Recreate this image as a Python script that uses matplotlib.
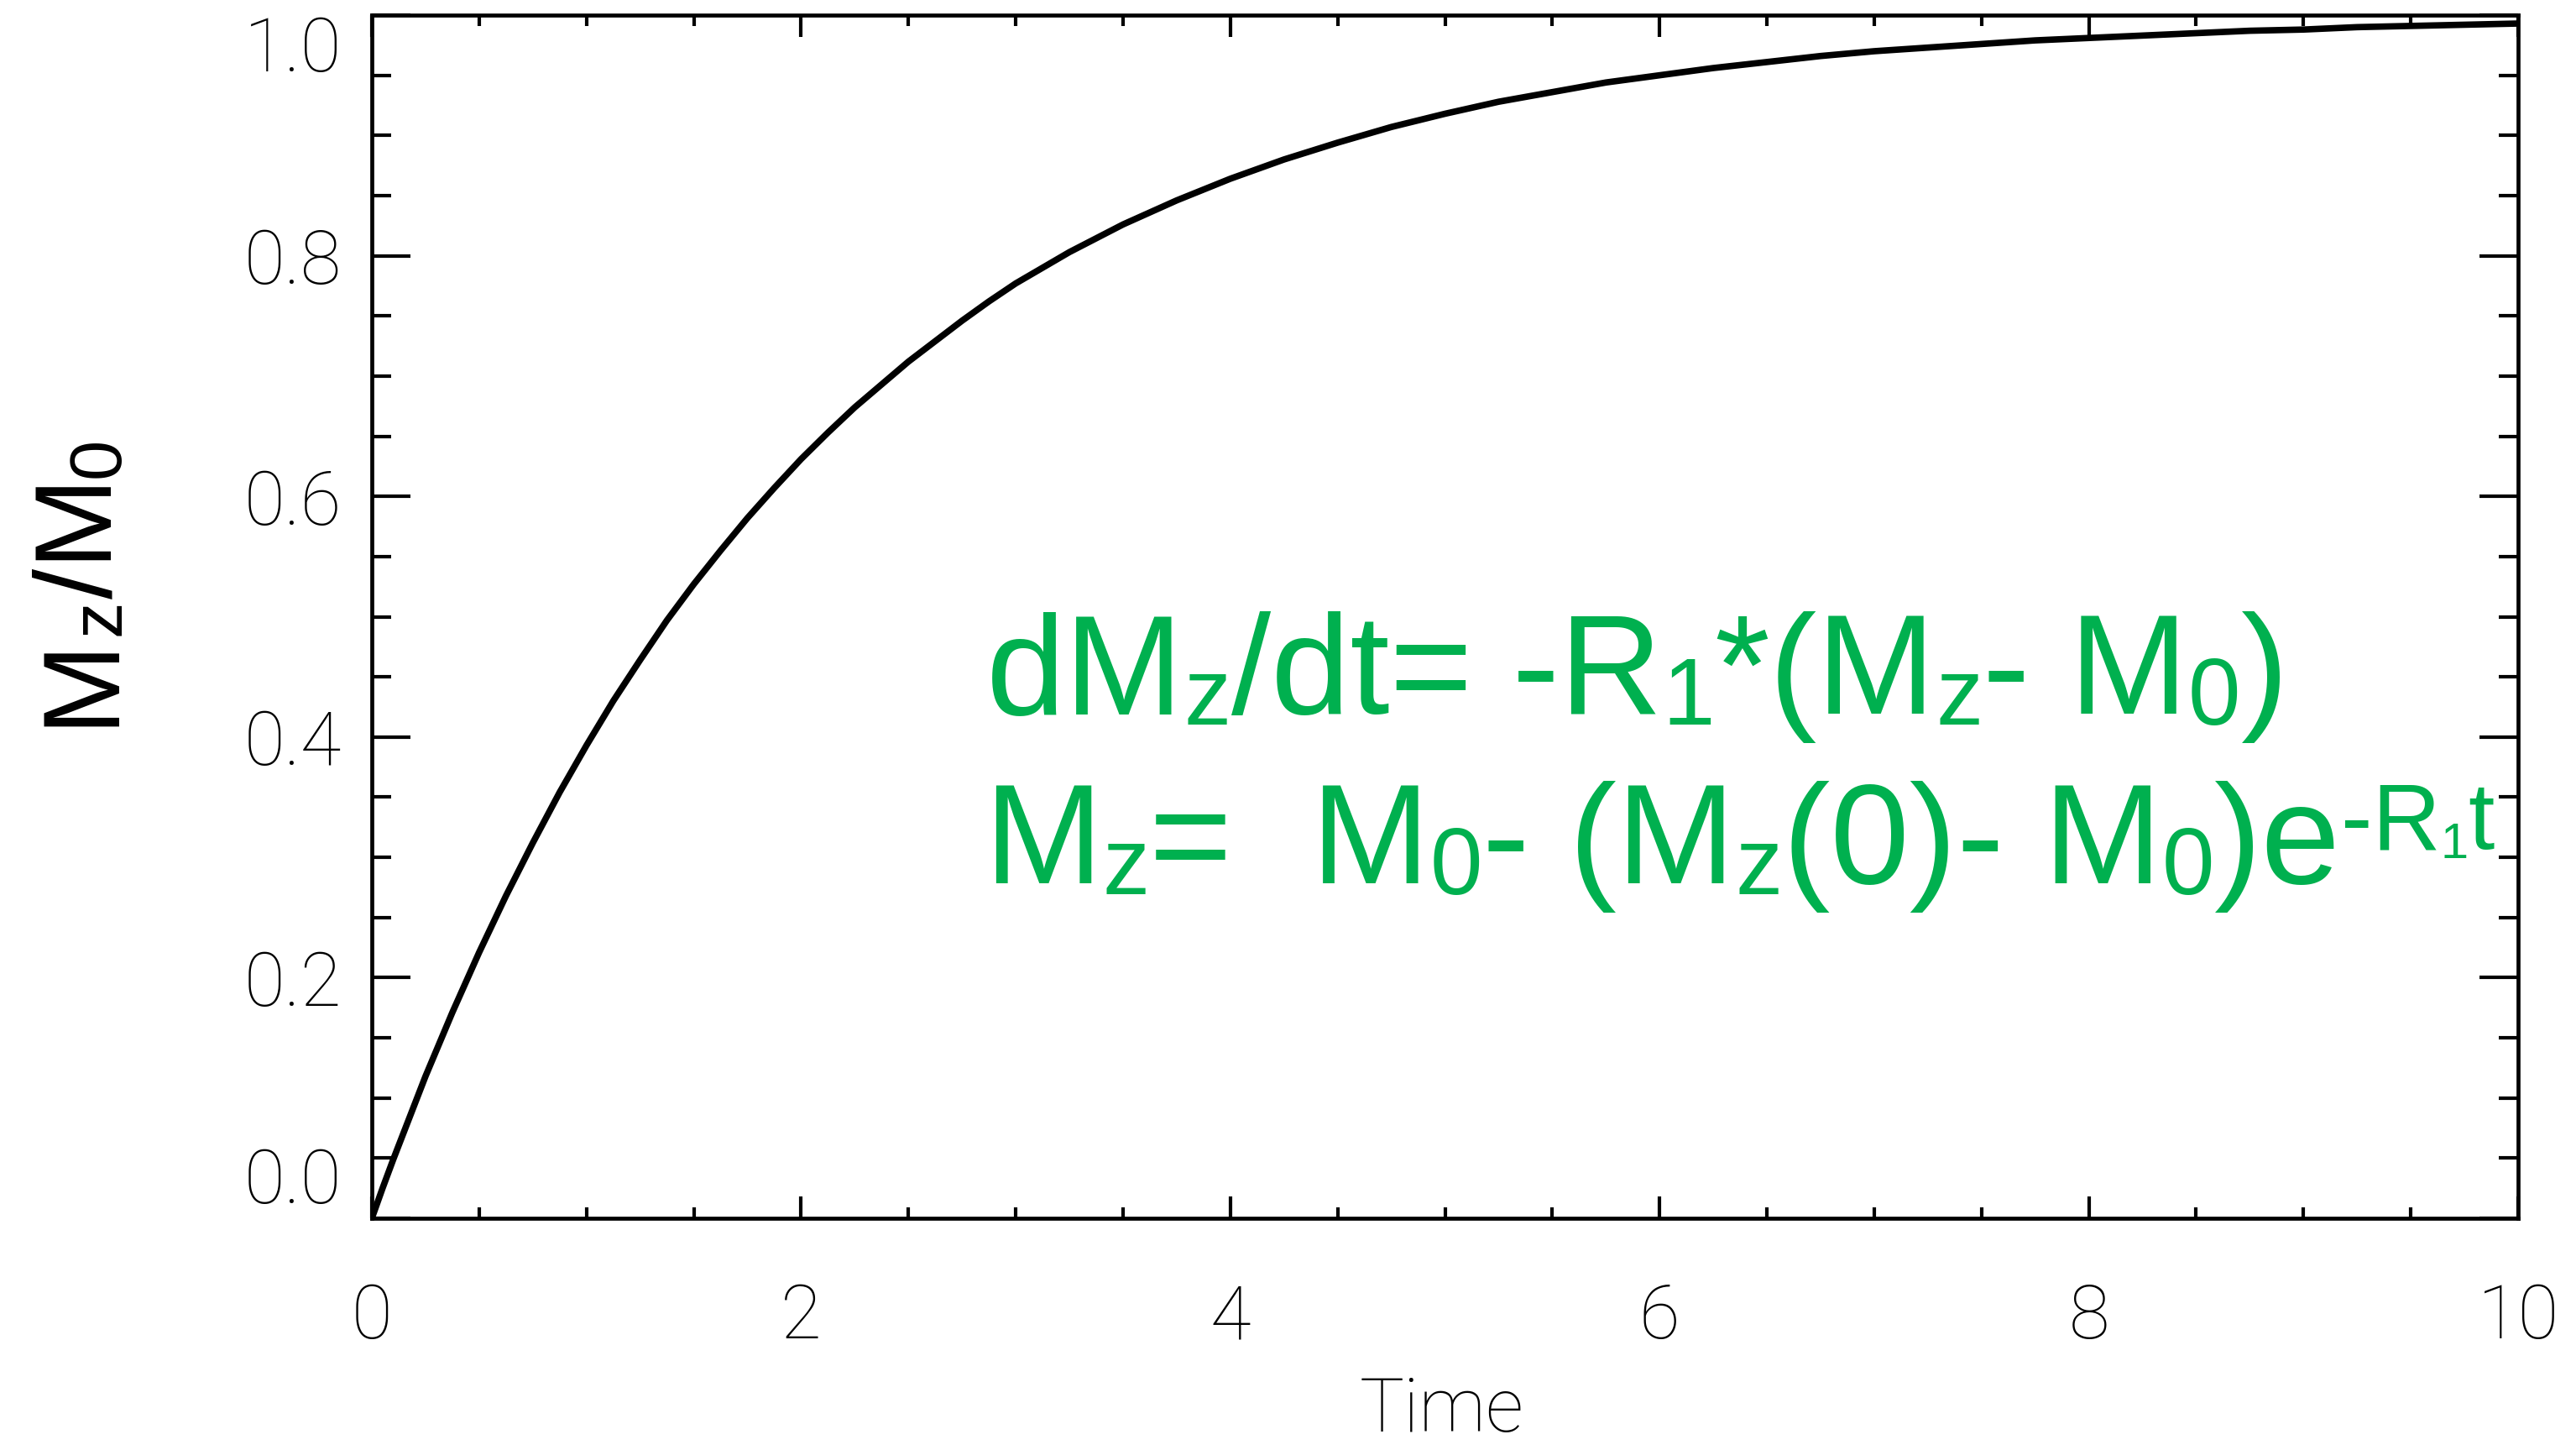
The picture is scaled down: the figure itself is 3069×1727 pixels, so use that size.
# relaxation curve Mz/M0 vs time, with the Bloch equation written in green

import numpy as np
import matplotlib
matplotlib.use('Agg')
import matplotlib.pyplot as plt
from matplotlib.ticker import MultipleLocator
from matplotlib.transforms import IdentityTransform
from matplotlib.font_manager import FontProperties

# values
time = [0.0, 0.05, 0.1, 0.25, 0.375, 0.5, 0.625, 0.75, 0.875, 1.0, 1.125, 1.25,
        1.375, 1.5, 1.625, 1.75, 1.875, 2.0, 2.125, 2.25, 2.375, 2.5, 2.625,
        2.75, 2.875, 3.0, 3.125, 3.25, 3.5, 3.75, 4.0, 4.25, 4.5, 4.75, 5.0,
        5.25, 5.5, 5.75, 6.0, 6.25, 6.5, 6.75, 7.0, 7.25, 7.5, 7.75, 8.0, 8.25,
        8.5, 8.75, 9.0, 9.25, 9.5, 9.75, 10.0]
mz = [0.0, 0.025, 0.049, 0.118, 0.171, 0.221, 0.268, 0.312, 0.354, 0.393, 0.430,
      0.464, 0.497, 0.527, 0.555, 0.582, 0.607, 0.631, 0.653, 0.674, 0.693,
      0.712, 0.729, 0.746, 0.762, 0.777, 0.790, 0.803, 0.826, 0.846, 0.864,
      0.880, 0.894, 0.907, 0.918, 0.928, 0.936, 0.944, 0.950, 0.956, 0.961,
      0.966, 0.970, 0.973, 0.976, 0.979, 0.981, 0.983, 0.985, 0.987, 0.988,
      0.990, 0.991, 0.992, 0.993]

xticks = [0, 2, 4, 6, 8, 10]
xlabels = ['0', '2', '4', '6', '8', '10']
yticks = [0.0, 0.2, 0.4, 0.6, 0.8, 1.0]
ylabels = ['0.0', '0.2', '0.4', '0.6', '0.8', '1.0']

W, H = 3069, 1727
green = '#00B04F'
sans = ['Liberation Sans', 'DejaVu Sans']
thin = ['Roboto', 'DejaVu Sans']

fig = plt.figure(figsize=(W/100., H/100.), dpi=100)
ax = fig.add_axes([443./W, 1-1451./H, (3000-443.)/W, (1451-18.)/H])

ax.plot(time, mz, color='black', lw=5.5, solid_joinstyle='round', solid_capstyle='butt')
ax.set_xlim(0, 10)
ax.set_ylim(0, 1)

for s in ax.spines.values():
    s.set_linewidth(3.4)

ax.set_xticks(xticks)
ax.set_xticklabels(xlabels)
ax.set_yticks(yticks)
ax.set_yticklabels(ylabels)
ax.xaxis.set_minor_locator(MultipleLocator(0.5))
ax.yaxis.set_minor_locator(MultipleLocator(0.05))
ax.tick_params(which='both', direction='in', top=True, right=True, width=3, color='black')
ax.tick_params(axis='x', which='major', length=18.7, pad=55)
ax.tick_params(axis='x', which='minor', length=9.4)
ax.tick_params(axis='y', which='major', length=33, pad=26)
ax.tick_params(axis='y', which='minor', length=16.5)
for lab in ax.get_xticklabels() + ax.get_yticklabels():
    lab.set_family(thin)
    lab.set_weight('light')
    lab.set_fontsize(64)
ymaj = ax.yaxis.get_major_ticks()
ymaj[0].label1.set_va('bottom')
ymaj[-1].label1.set_va('top')

fig.text(1718./W, 1-1680./H, 'Time', family=thin, weight='light', fontsize=64,
         ha='center', va='center')

fig.canvas.draw()
rend = fig.canvas.get_renderer()

def adv(s, size, fam):
    prop = FontProperties(family=fam, size=size)
    w1 = rend.get_text_width_height_descent('|' + s + '|', prop, False)[0]
    w2 = rend.get_text_width_height_descent('||', prop, False)[0]
    return w1 - w2

def chain(x0, y0, pieces, color, fam, rot=0):
    # pieces: (text, size in pt, baseline shift in px)
    pos = x0 if rot == 0 else y0
    for s, size, off in pieces:
        if rot == 0:
            ax.text(pos, y0 + off, s, transform=IdentityTransform(), color=color,
                    family=fam, fontsize=size, ha='left', va='baseline', clip_on=True)
        else:
            fig.text(x0 - off, pos, s, transform=IdentityTransform(), color=color,
                     family=fam, fontsize=size, ha='left', va='baseline',
                     rotation=90, rotation_mode='anchor')
        pos += adv(s, size, fam)

m, sb, ss = 122, 81, 43
line1 = [('dM', m, 0), ('z', sb, -13), ('/dt= -R', m, 0), ('1', sb, -13),
         ('*(M', m, 0), ('z', sb, -13), ('- M', m, 0), ('0', sb, -13), (')', m, 0)]
line2 = [('M', m, 0), ('z', sb, -13), ('=  M', m, 0), ('0', sb, -13),
         ('- (M', m, 0), ('z', sb, -13), ('(0)- M', m, 0), ('0', sb, -13),
         (')e', m, 0), ('-R', sb, 41), ('1', ss, 30), ('t', sb, 41)]
chain(1175, H - 850, line1, green, sans)
chain(1172, H - 1052, line2, green, sans)

ylab = [('M', 93.6, 0), ('z', 62.6, -10), ('/M', 93.6, 0), ('0', 62.6, -10)]
chain(132, H - 865, ylab, 'black', sans, rot=90)

fig.savefig('out.png', dpi=100)
